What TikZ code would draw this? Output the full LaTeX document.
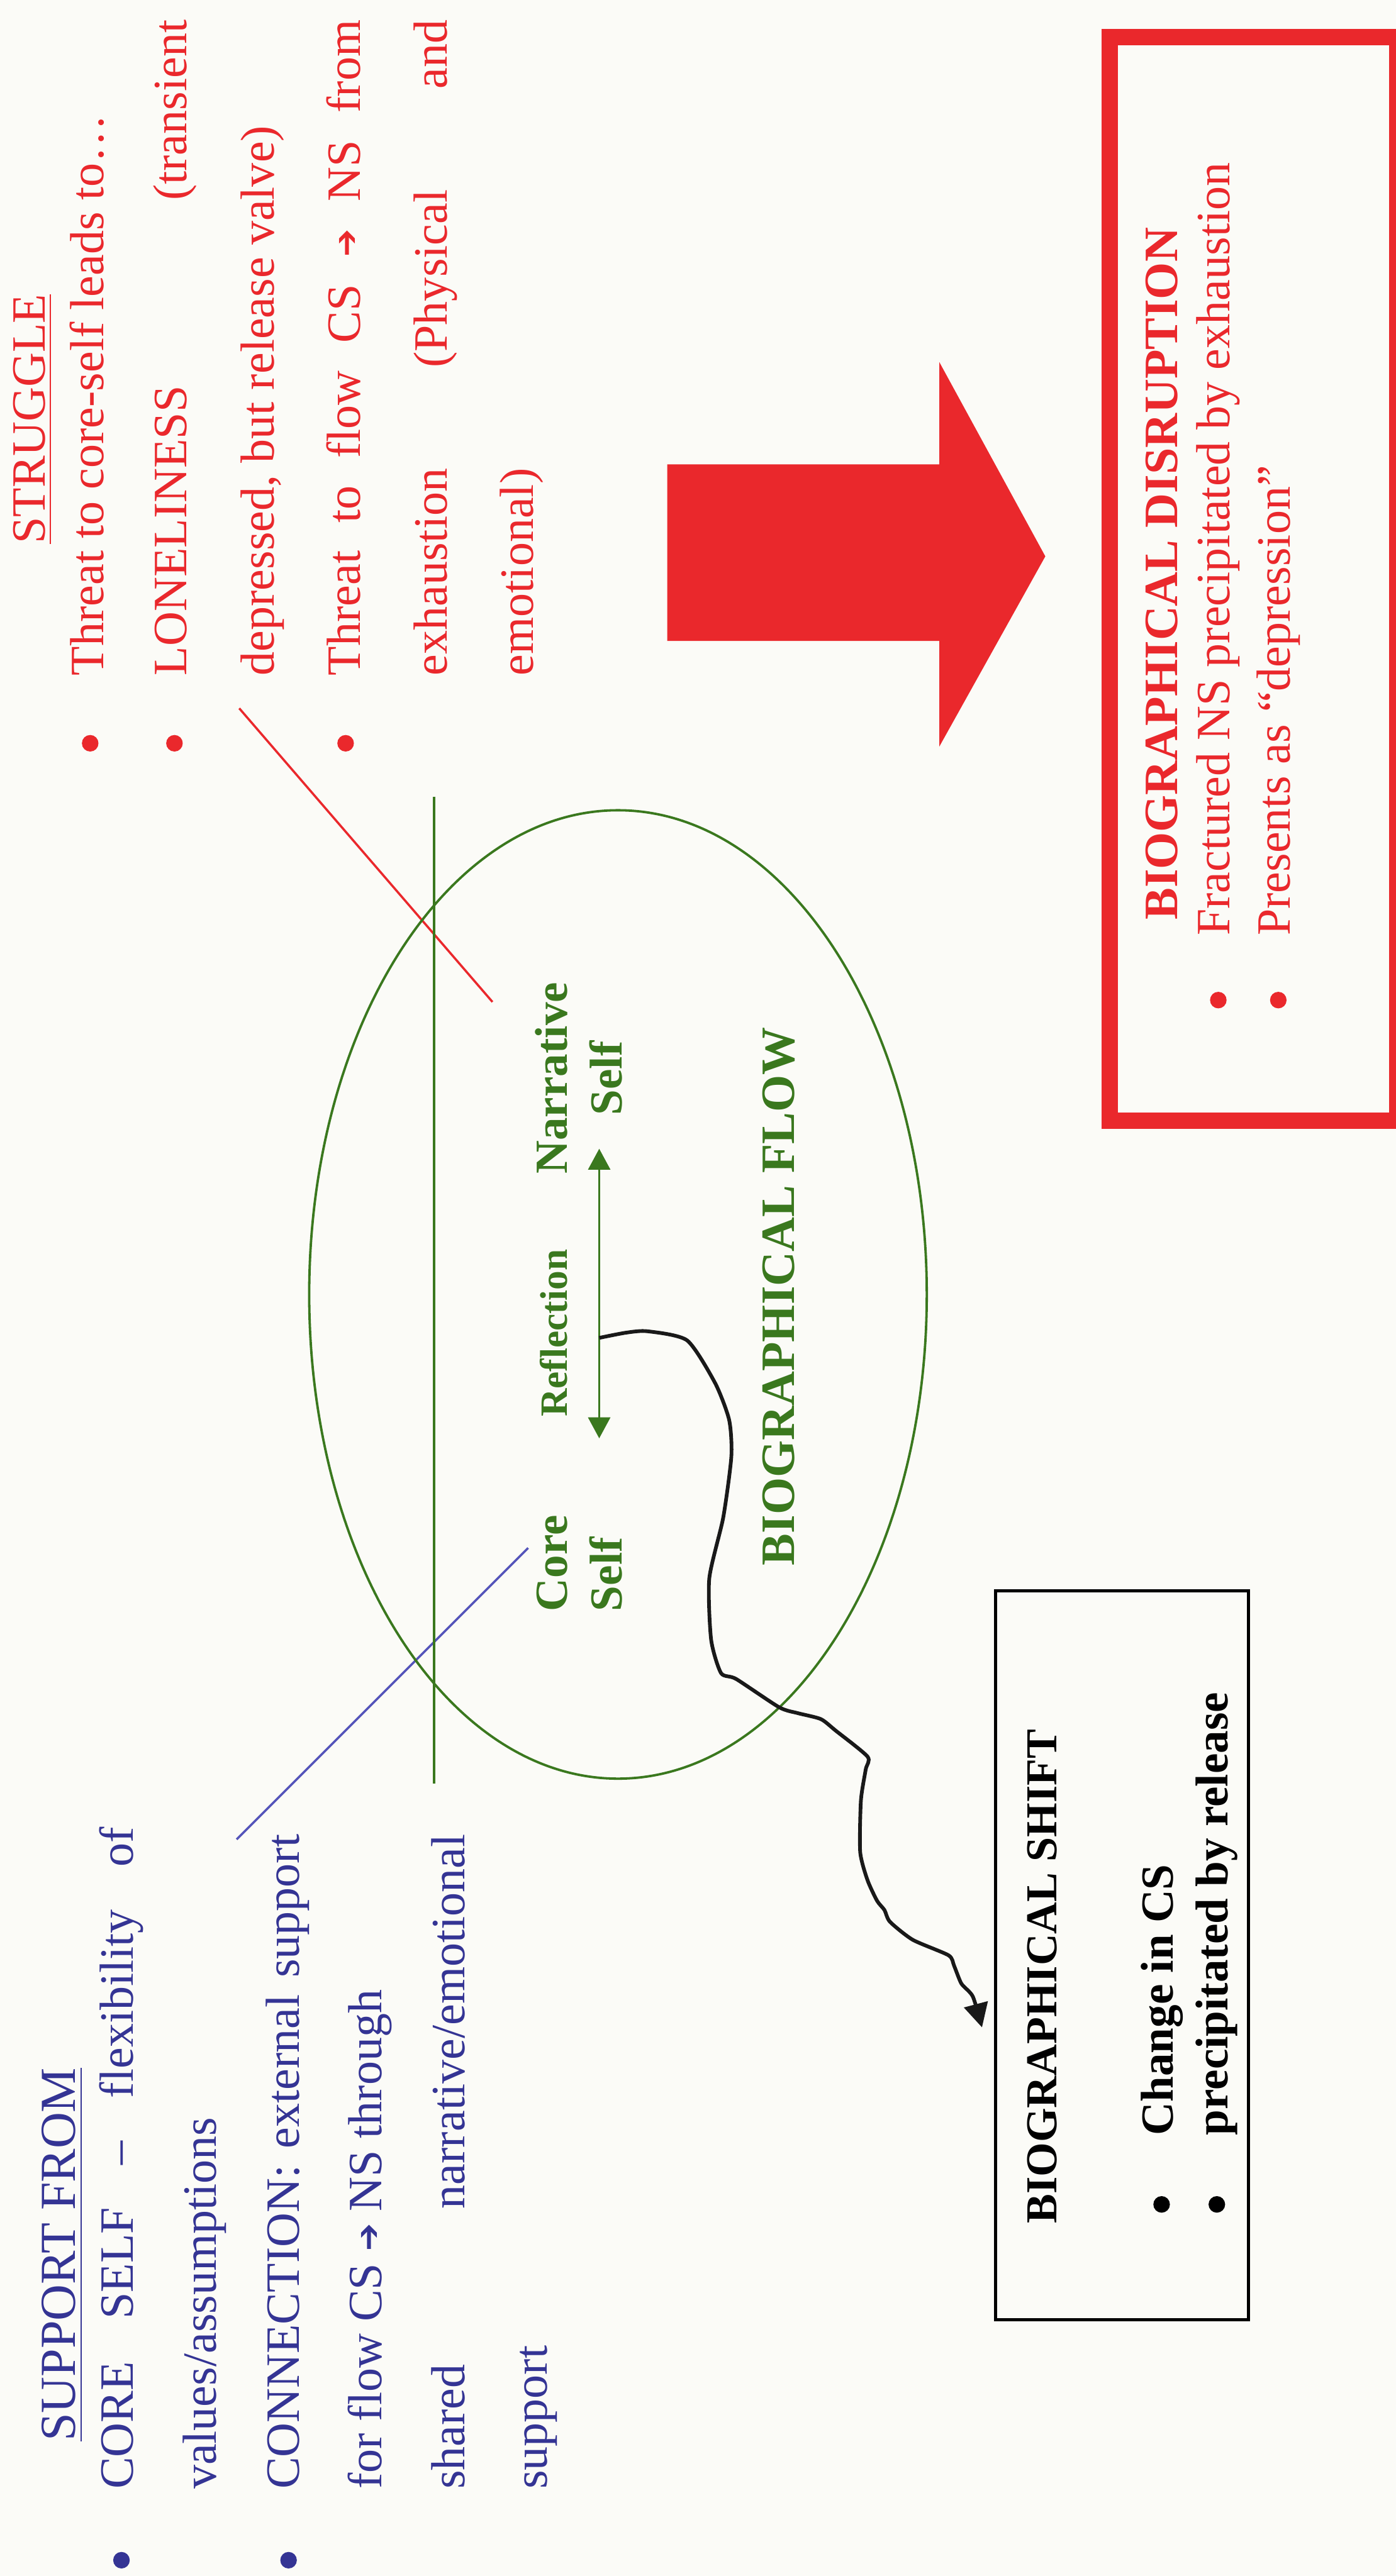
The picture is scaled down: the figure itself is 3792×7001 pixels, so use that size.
\documentclass[tikz,border=0pt]{standalone}
\usepackage{fontspec}
\setmainfont{Liberation Serif}
\newfontfamily\symfont{DejaVu Sans}
\usepackage{tikz}
\usetikzlibrary{arrows.meta,shapes.geometric}

\definecolor{redC}{RGB}{234,40,44}
\definecolor{greenC}{RGB}{58,120,30}
\definecolor{blueC}{RGB}{52,52,148}
\definecolor{blueL}{RGB}{84,84,186}
\definecolor{pagebg}{RGB}{251,251,247}

\newcommand{\flowto}{\raisebox{0.6pt}{\symfont\fontsize{9}{9}\selectfont ➔}}

\begin{document}
\begin{tikzpicture}[x=0.1pt, y=-0.1pt,
	txt/.style={rotate=90, anchor=base west, inner sep=0pt, font=\fontsize{13}{15}\selectfont},
	mid/.style={rotate=90, anchor=base, inner sep=0pt},
	dot/.style={circle, inner sep=0pt, minimum size=4.5pt},
	greenbf/.style={font=\fontsize{12.5}{14}\selectfont\bfseries},
	flowtip/.tip={Triangle[length=5.7pt,width=6pt]}]
	\fill[pagebg] (0,0) rectangle (3792,7001);
	\useasboundingbox (0,0) rectangle (3792,7001);

	% support from
	\node[txt, blueC, font=\fontsize{13.7}{15}\selectfont] (supp) at (205,6637) {\underline{SUPPORT FROM}};
	\node[dot, fill=blueC] (sb1) at (330,6958) {};
	\node[txt, blueC] (s1) at (362,6767) {\makebox[180pt][s]{CORE SELF – flexibility of}};
	\node[txt, blueC] (s2) at (587,6767) {values/assumptions};
	\node[dot, fill=blueC] (sb2) at (784,6958) {};
	\node[txt, blueC] (s3) at (812,6767) {\makebox[178pt][s]{CONNECTION: external support}};
	\node[txt, blueC] (s4) at (1037,6767) {for flow CS \flowto{} NS through};
	\node[txt, blueC] (s5) at (1262,6767) {\makebox[178pt][s]{shared narrative/emotional}};
	\node[txt, blueC] (s6) at (1487,6767) {support};

	% struggle
	\node[txt, redC] (stru) at (122,1480) {\underline{STRUGGLE}};
	\node[dot, fill=redC] (rb1) at (245,2020) {};
	\node[txt, redC] (r1) at (282,1838) {Threat to core-self leads to…};
	\node[dot, fill=redC] (rb2) at (474,2020) {};
	\node[txt, redC] (r2) at (506,1838) {\makebox[178.2pt][s]{LONELINESS (transient}};
	\node[txt, redC] (r3) at (745,1838) {depressed, but release valve)};
	\node[dot, fill=redC] (rb3) at (939,2020) {};
	\node[txt, redC] (r4) at (978,1838) {\makebox[178.2pt][s]{Threat to flow CS \flowto{} NS from}};
	\node[txt, redC] (r5) at (1214,1838) {\makebox[178.2pt][s]{exhaustion (Physical and}};
	\node[txt, redC] (r6) at (1449,1838) {emotional)};

	\coordinate (lonA) at (650,1925);
	\coordinate (lonB) at (1338,2723);
	\draw[redC, line width=0.6pt] (lonA) -- (lonB);
	\coordinate (conA) at (643,4999);
	\coordinate (conB) at (1435,4207);
	\draw[blueL, line width=0.6pt] (conA) -- (conB);

	% biographical flow
	\coordinate (axA) at (1179,2165);
	\coordinate (axB) at (1179,4847);
	\draw[greenC, line width=0.65pt] (axA) -- (axB);
	\node[draw=greenC, line width=0.65pt, ellipse, inner sep=0pt, minimum width=167.8pt, minimum height=263.2pt] (flow) at (1679,3518) {};

	\node[txt, greenC, greenbf] (core) at (1541,4381) {Core};
	\node[txt, greenC, greenbf] (cself) at (1690,4381) {Self};
	\node[mid, greenC, font=\fontsize{10.5}{12}\selectfont\bfseries] (refl) at (1541,3623) {Reflection};
	\node[mid, greenC, greenbf] (narr) at (1541,2930) {Narrative};
	\node[mid, greenC, greenbf] (nself) at (1690,2930) {Self};
	\node[mid, greenC, font=\fontsize{13}{15}\selectfont\bfseries] (bflow) at (2158,3523) {BIOGRAPHICAL FLOW};

	\coordinate (csend) at (1628,3909);
	\coordinate (nsend) at (1628,3122);
	\coordinate (refmid) at (1628,3636);
	\draw[greenC, line width=0.55pt, flowtip-flowtip] (csend) -- (nsend);

	% shift
	\node[draw, line width=0.9pt, inner sep=0pt, minimum width=68.7pt, minimum height=198.2pt] (shift) at (3048.5,5314) {};
	\coordinate (shtip) at (2668,5510);
	\draw[black!90, line width=1pt, -{Triangle[length=6.5pt,width=6.5pt]}] plot[smooth, tension=0.4] coordinates {(refmid) (1700,3622) (1759,3618) (1867,3643) (1943,3759) (1981,3859) (1987,3958) (1965,4124) (1927,4290) (1932,4456) (1959,4547) (2000,4563) (2117,4640) (2168,4656) (2230,4672) (2270,4703) (2357,4774) (2352,4809) (2339,4893) (2337,5033) (2357,5110) (2383,5166) (2403,5191) (2418,5223) (2480,5272) (2577,5314) (2592,5342) (2612,5391) (2643,5426) (shtip)};

	\node[txt, font=\fontsize{12}{14}\selectfont\bfseries] (shead) at (2870,6045) {BIOGRAPHICAL SHIFT};
	\node[dot, fill=black] (shb1) at (3156,5991) {};
	\node[txt, font=\fontsize{12.5}{14}\selectfont\bfseries] (sh1) at (3186,5805) {Change in CS};
	\node[dot, fill=black] (shb2) at (3306,5991) {};
	\node[txt, font=\fontsize{12.5}{14}\selectfont\bfseries] (sh2) at (3336,5805) {precipitated by release};

	% disruption
	\fill[redC] (1813,1262) -- (2552,1262) -- (2552,984) -- (2840,1512) -- (2552,2029) -- (2552,1742) -- (1813,1742) -- cycle;
	\node[draw=redC, line width=4.5pt, inner sep=0pt, minimum width=78.2pt, minimum height=294.5pt] (disr) at (3406,1573.5) {};
	\node[txt, redC, font=\fontsize{13}{15}\selectfont\bfseries] (dhead) at (3198,2502) {BIOGRAPHICAL DISRUPTION};
	\node[dot, fill=redC] (db1) at (3310,2718) {};
	\node[txt, redC] (d1) at (3340,2545) {Fractured NS precipitated by exhaustion};
	\node[dot, fill=redC] (db2) at (3473,2718) {};
	\node[txt, redC] (d2) at (3505,2545) {Presents as “depression”};
\end{tikzpicture}
\end{document}
